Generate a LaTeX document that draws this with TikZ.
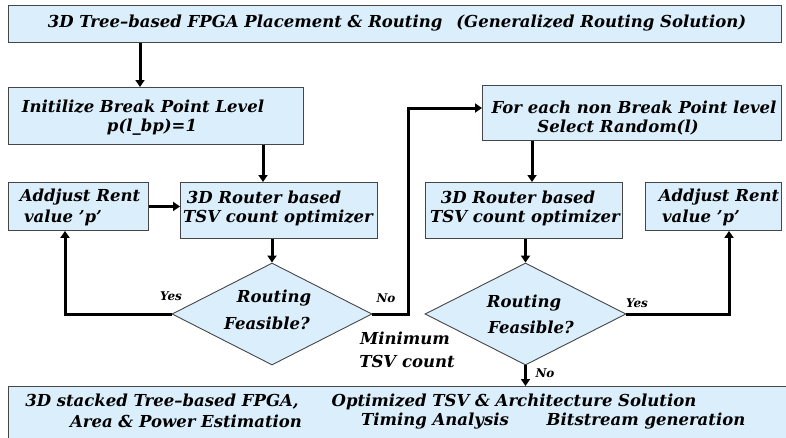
\documentclass[tikz,border=0pt]{standalone}
\usepackage{fontspec}
\setmainfont{DejaVu Serif}
\usetikzlibrary{shapes.geometric,arrows.meta}
\definecolor{boxfill}{RGB}{219,238,251}
\definecolor{boxline}{RGB}{70,70,70}
\tikzset{
  box/.style={draw=boxline, fill=boxfill, line width=0.9pt, inner sep=0pt, anchor=north west},
  dia/.style={diamond, draw=boxline, fill=boxfill, line width=0.9pt, inner sep=0pt},
  txt/.style={font=\fontsize{16.5}{18}\selectfont\bfseries\itshape, inner sep=0pt},
  lbl/.style={font=\fontsize{12}{13}\selectfont\bfseries\itshape, inner sep=0pt},
  arr/.style={line width=3pt, -{Triangle[length=7pt,width=9pt]}}
}
\begin{document}
\begin{tikzpicture}[x=1pt,y=-1pt]
\useasboundingbox (0,0) rectangle (786,437);
% boxes
\node[box, minimum width=773, minimum height=37] (top) at (8,5) {};
\node[box, minimum width=295, minimum height=57] (init) at (8,87) {};
\node[box, minimum width=140, minimum height=48] (a1) at (8,182) {};
\node[box, minimum width=197, minimum height=56] (r1) at (180,182) {};
\node[box, minimum width=299, minimum height=55] (rb) at (482,85) {};
\node[box, minimum width=197, minimum height=56] (r2) at (425,182) {};
\node[box, minimum width=136, minimum height=48] (a2) at (645,182) {};
\node[box, minimum width=790, minimum height=60] (bot) at (8,386) {};
\node[dia, minimum width=200, minimum height=102] (d1) at (272,314) {};
\node[dia, minimum width=201, minimum height=102] (d2) at (525.5,314) {};
% texts
\node[txt] (t0) at (397,23) {3D Tree--based FPGA Placement \& Routing\hspace{14pt}(Generalized Routing Solution)};
\node[txt] (t1) at (143,107) {Initilize Break Point Level};
\node[txt] (t2) at (152,127) {p(l\_bp)=1};
\node[txt] (t3) at (80,197) {Addjust Rent};
\node[txt] (t4) at (63,218) {value 'p'};
\node[txt] (t5) at (264,197) {3D Router based};
\node[txt] (t6) at (278,218) {TSV count optimizer};
\node[txt] (t7) at (274,298) {Routing};
\node[txt] (t8) at (267,323) {Feasible?};
\node[txt] (t9) at (634,107) {For each non Break Point level};
\node[txt] (t10) at (618,128) {Select Random(l)};
\node[txt] (t11) at (518,197) {3D Router based};
\node[txt] (t12) at (525,218) {TSV count optimizer};
\node[txt] (t13) at (719,197) {Addjust Rent};
\node[txt] (t14) at (701,218) {value 'p'};
\node[txt] (t15) at (524,303) {Routing};
\node[txt] (t16) at (531,327) {Feasible?};
\node[txt] (t17) at (405,338) {Minimum};
\node[txt] (t18) at (407,361) {TSV count};
\node[txt] (t19) at (162,402) {3D stacked Tree--based FPGA,};
\node[txt] (t20) at (186,421) {Area \& Power Estimation};
\node[txt] (t21) at (514,402) {Optimized TSV \& Architecture Solution};
\node[txt] (t22) at (435,421) {Timing Analysis};
\node[txt] (t23) at (646,421) {Bitstream generation};
\node[lbl] (y1) at (171,296) {Yes};
\node[lbl] (n1) at (386,298) {No};
\node[lbl] (y2) at (637,303) {Yes};
\node[lbl] (n2) at (545,373) {No};
% connectors
\coordinate (x140) at (140,0);
\coordinate (x263) at (263,0);
\coordinate (x65) at (65,0);
\coordinate (cno) at (408,108);
\coordinate (x532) at (532,0);
\coordinate (x729) at (729,0);
\draw[arr] (top.south -| x140) -- (init.north -| x140);
\draw[arr] (init.south -| x263) -- (r1.north -| x263);
\draw[arr] (a1.east) -- (a1.east -| r1.west);
\draw[arr] (r1.south -| d1.north) -- (d1.north);
\draw[arr] (d1.west) -| (a1.south -| x65);
\draw[arr] (d1.east) -| (cno) -- (cno -| rb.west);
\draw[arr] (rb.south -| x532) -- (r2.north -| x532);
\draw[arr] (r2.south -| d2.north) -- (d2.north);
\draw[arr] (d2.east) -| (a2.south -| x729);
\draw[arr] (d2.south) -- (d2.south |- bot.north);
\end{tikzpicture}
\end{document}
